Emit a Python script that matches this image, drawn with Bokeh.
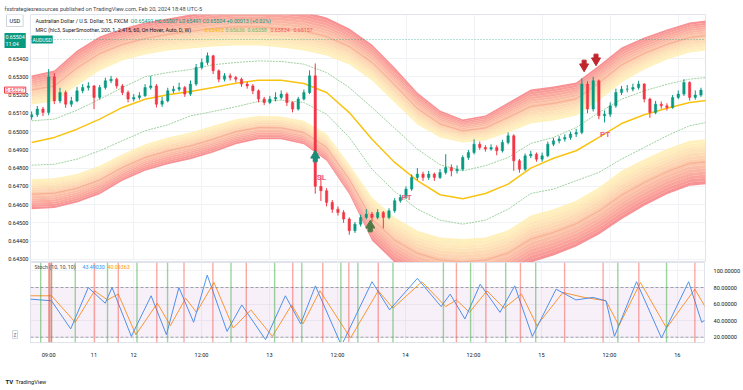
from bokeh.plotting import figure
from bokeh.layouts import column, row
from bokeh.models import Range1d, FixedTicker, Span, Label, BoxAnnotation, ColumnDataSource, NumeralTickFormatter
from bokeh.embed import file_html
from bokeh.resources import INLINE
from bokeh.core.properties import value

FONT = "Roboto"

# ---------------- data (hourly bars, index 0 = Fri 9 Feb 06:00) ----------------
FIRST_OPEN = 0.65080
CLOSE = [0.65092, 0.65123, 0.65105, 0.65300, 0.65168, 0.65214, 0.65150, 0.65168, 0.65223, 0.65241,
         0.65250, 0.65187, 0.65241, 0.65278, 0.65287, 0.65250, 0.65214, 0.65178, 0.65187, 0.65196,
         0.65241, 0.65250, 0.65150, 0.65168, 0.65223, 0.65232, 0.65241, 0.65205, 0.65260, 0.65351,
         0.65378, 0.65415, 0.65333, 0.65287, 0.65305, 0.65296, 0.65287, 0.65260, 0.65250, 0.65223,
         0.65178, 0.65159, 0.65178, 0.65187, 0.65205, 0.65159, 0.65123, 0.65178, 0.65214, 0.65305,
         0.64700, 0.64676, 0.64612, 0.64575, 0.64557, 0.64521, 0.64457, 0.64493, 0.64530, 0.64548,
         0.64530, 0.64557, 0.64530, 0.64566, 0.64621, 0.64639, 0.64685, 0.64749, 0.64767, 0.64749,
         0.64767, 0.64749, 0.64776, 0.64803, 0.64785, 0.64794, 0.64858, 0.64885, 0.64931, 0.64913,
         0.64904, 0.64913, 0.64895, 0.64940, 0.64977, 0.64840, 0.64794, 0.64867, 0.64876, 0.64849,
         0.64867, 0.64931, 0.64949, 0.64959, 0.64968, 0.64986, 0.64995, 0.65260, 0.65123, 0.65278,
         0.65086, 0.65095, 0.65141, 0.65214, 0.65232, 0.65232, 0.65241, 0.65260, 0.65178, 0.65104,
         0.65150, 0.65141, 0.65132, 0.65187, 0.65205, 0.65269, 0.65187, 0.65200, 0.65227]
HIGH = [0.65110, 0.65140, 0.65135, 0.65342, 0.65320, 0.65240, 0.65225, 0.65190, 0.65245, 0.65260,
        0.65270, 0.65255, 0.65255, 0.65295, 0.65305, 0.65295, 0.65260, 0.65225, 0.65205, 0.65215,
        0.65260, 0.65305, 0.65260, 0.65190, 0.65240, 0.65250, 0.65268, 0.65250, 0.65280, 0.65370,
        0.65400, 0.65433, 0.65420, 0.65340, 0.65320, 0.65318, 0.65305, 0.65295, 0.65272, 0.65260,
        0.65230, 0.65190, 0.65195, 0.65215, 0.65225, 0.65215, 0.65165, 0.65190, 0.65230, 0.65335,
        0.65373, 0.64760, 0.64690, 0.64625, 0.64590, 0.64570, 0.64530, 0.64505, 0.64545, 0.64575,
        0.64560, 0.64575, 0.64565, 0.64580, 0.64635, 0.64655, 0.64700, 0.64765, 0.64800, 0.64780,
        0.64785, 0.64775, 0.64795, 0.64876, 0.64820, 0.64815, 0.64870, 0.64900, 0.64958, 0.64945,
        0.64925, 0.64930, 0.64925, 0.64955, 0.64995, 0.64985, 0.64850, 0.64880, 0.64895, 0.64885,
        0.64885, 0.64945, 0.64965, 0.64975, 0.64985, 0.65000, 0.65015, 0.65292, 0.65275, 0.65300,
        0.65285, 0.65115, 0.65160, 0.65235, 0.65250, 0.65255, 0.65262, 0.65278, 0.65265, 0.65185,
        0.65168, 0.65165, 0.65155, 0.65200, 0.65225, 0.65287, 0.65275, 0.65225, 0.65240]
LOW = [0.65065, 0.65080, 0.65085, 0.65090, 0.65150, 0.65155, 0.65130, 0.65135, 0.65160, 0.65210,
       0.65225, 0.65123, 0.65175, 0.65230, 0.65265, 0.65235, 0.65200, 0.65160, 0.65165, 0.65175,
       0.65190, 0.65230, 0.65132, 0.65135, 0.65160, 0.65210, 0.65220, 0.65190, 0.65195, 0.65250,
       0.65340, 0.65365, 0.65315, 0.65270, 0.65275, 0.65280, 0.65270, 0.65245, 0.65235, 0.65205,
       0.65160, 0.65145, 0.65150, 0.65165, 0.65175, 0.65140, 0.65105, 0.65115, 0.65170, 0.65205,
       0.64660, 0.64620, 0.64590, 0.64555, 0.64540, 0.64500, 0.64435, 0.64445, 0.64480, 0.64520,
       0.64505, 0.64520, 0.64470, 0.64520, 0.64555, 0.64610, 0.64630, 0.64675, 0.64735, 0.64730,
       0.64735, 0.64730, 0.64740, 0.64765, 0.64755, 0.64770, 0.64785, 0.64845, 0.64875, 0.64900,
       0.64890, 0.64895, 0.64870, 0.64885, 0.64930, 0.64785, 0.64775, 0.64785, 0.64855, 0.64835,
       0.64835, 0.64860, 0.64920, 0.64935, 0.64945, 0.64955, 0.64970, 0.64985, 0.65100, 0.65110,
       0.65068, 0.65050, 0.65080, 0.65130, 0.65200, 0.65215, 0.65220, 0.65230, 0.65160, 0.65075,
       0.65095, 0.65125, 0.65115, 0.65125, 0.65178, 0.65195, 0.65170, 0.65175, 0.65190]

# Mean Reversion Channel, sampled every 4 bars
MRC_X = [0, 4, 8, 12, 16, 20, 24, 28, 32, 36, 40, 44, 48, 52, 56, 60, 64, 68, 72, 76,
         80, 84, 88, 92, 96, 100, 104, 108, 112, 116, 119]
MRC_MEAN = [0.64940, 0.64968, 0.65013, 0.65068, 0.65132, 0.65177, 0.65201, 0.65219, 0.65241, 0.65265,
            0.65281, 0.65281, 0.65263, 0.65214, 0.65104, 0.64958, 0.64831, 0.64731, 0.64654, 0.64632,
            0.64661, 0.64712, 0.64800, 0.64854, 0.64895, 0.64968, 0.65044, 0.65092, 0.65128, 0.65159, 0.65170]
MRC_UP_IN = [0.65059, 0.65068, 0.65117, 0.65177, 0.65241, 0.65300, 0.65323, 0.65340, 0.65366, 0.65378,
             0.65387, 0.65384, 0.65369, 0.65323, 0.65241, 0.65132, 0.65018, 0.64904, 0.64818, 0.64785,
             0.64813, 0.64858, 0.64935, 0.64968, 0.65022, 0.65104, 0.65177, 0.65223, 0.65259, 0.65287, 0.65296]
MRC_LO_IN = [0.64816, 0.64821, 0.64849, 0.64895, 0.64950, 0.65004, 0.65037, 0.65086, 0.65110, 0.65136,
             0.65165, 0.65172, 0.65159, 0.65095, 0.64968, 0.64794, 0.64672, 0.64575, 0.64515, 0.64493,
             0.64515, 0.64575, 0.64661, 0.64685, 0.64731, 0.64776, 0.64849, 0.64913, 0.64977, 0.65032, 0.65050]
MRC_UB_IN = [0.65148, 0.65165, 0.65252, 0.65334, 0.65389, 0.65422, 0.65444, 0.65455, 0.65466, 0.65471,
             0.65471, 0.65460, 0.65444, 0.65416, 0.65367, 0.65280, 0.65159, 0.65039, 0.64968, 0.64940,
             0.64951, 0.64995, 0.65044, 0.65061, 0.65088, 0.65170, 0.65269, 0.65340, 0.65395, 0.65433, 0.65444]
MRC_UB_OUT = [0.65307, 0.65334, 0.65444, 0.65520, 0.65564, 0.65597, 0.65619, 0.65641, 0.65663, 0.65674,
              0.65674, 0.65668, 0.65657, 0.65624, 0.65564, 0.65477, 0.65351, 0.65214, 0.65115, 0.65066,
              0.65088, 0.65159, 0.65230, 0.65247, 0.65269, 0.65362, 0.65460, 0.65515, 0.65559, 0.65597, 0.65608]
MRC_LB_IN = [0.64739, 0.64745, 0.64767, 0.64813, 0.64876, 0.64931, 0.64968, 0.64995, 0.65032, 0.65068,
             0.65086, 0.65083, 0.65059, 0.64986, 0.64821, 0.64639, 0.64530, 0.64457, 0.64420, 0.64411,
             0.64420, 0.64459, 0.64541, 0.64575, 0.64621, 0.64694, 0.64785, 0.64849, 0.64904, 0.64950, 0.64958]
MRC_LB_OUT = [0.64575, 0.64581, 0.64612, 0.64657, 0.64731, 0.64785, 0.64821, 0.64849, 0.64885, 0.64931,
              0.64958, 0.64958, 0.64931, 0.64840, 0.64657, 0.64404, 0.64283, 0.64212, 0.64174, 0.64163,
              0.64174, 0.64212, 0.64283, 0.64322, 0.64371, 0.64437, 0.64520, 0.64594, 0.64657, 0.64703, 0.64712]

# signals
ARROW_UP_X = [50.0, 59.7]
ARROW_UP_Y = [0.64869, 0.64486]
ARROW_UP_C = ["#1E8A78", "#4F7A45"]
ARROW_DN_X = [97.4, 99.5]
ARROW_DN_Y = [0.65356, 0.65389]
TAG_X = [51.1, 66.1, 101.1]
TAG_Y = [0.64750, 0.64639, 0.64986]
TAG_T = ["SL", "PT", "PT"]

# Stochastic (10,10,10)
K_X = [-0.3, 3.5, 6.9, 10.0, 13.0, 14.2, 17.6, 21.1, 23.8, 26.0, 28.6, 31.0, 34.5, 37.1, 41.3, 44.8,
       47.5, 50.1, 54.7, 60.1, 63.2, 68.1, 72.3, 73.9, 76.5, 79.2, 82.7, 85.3, 88.4, 92.6, 96.1, 99.1,
       101.4, 102.9, 106.8, 111.2, 116.0, 118.3, 119.4]
K_V = [66, 64, 30, 80, 61, 80, 21, 70, 23, 80, 38, 95, 27, 59, 17, 70,
       36, 82, 10, 87, 53, 91, 57, 72, 42, 84, 50, 82, 21, 78, 65, 68,
       64, 21, 87, 19, 87, 38, 43]
D_X = [-0.3, 3.5, 7.7, 11.1, 13.4, 15.3, 18.4, 22.2, 24.5, 27.2, 29.1, 32.2, 35.6, 38.7, 42.5, 45.9,
       47.9, 50.9, 56.3, 61.2, 63.8, 68.9, 73.1, 75.0, 77.3, 80.4, 83.4, 86.5, 89.2, 93.8, 97.6, 101.4,
       103.7, 107.5, 112.1, 117.1, 119.4]
D_V = [70, 70, 38, 76, 65, 72, 23, 61, 34, 67, 50, 86, 31, 53, 21, 59,
       36, 76, 19, 76, 55, 87, 57, 65, 50, 76, 55, 72, 34, 74, 68, 64,
       34, 86, 31, 78, 51]
GREEN_SIG = [1.6, 3.5, 7.7, 13.4, 18.6, 24.0, 35.2, 42.9, 47.7, 54.6, 57.6, 63.8, 72.7, 77.5, 83.7, 89.0, 103.5, 112.1]
RED_SIG = [3.1, 11.1, 15.3, 22.1, 26.9, 32.0, 37.9, 46.1, 51.4, 56.0, 61.2, 75.0, 80.2, 86.3, 94.1, 100.9, 107.2, 117.1]

PRICE_TICKS = [0.643, 0.644, 0.645, 0.646, 0.647, 0.648, 0.649, 0.650, 0.651, 0.652, 0.653, 0.654]
STOCH_TICKS = [20, 40, 60, 80, 100]
TIME_TICKS = [3, 11, 18, 30, 42, 54, 66, 78, 90, 102, 114]
TIME_LABELS = ["09:00", "11", "12", "12:00", "13", "12:00", "14", "12:00", "15", "12:00", "16"]

# ---------------- styling helpers ----------------
W = 743
LW = 30          # left strip (price scale)
BR = 38          # right border
UP_C, DN_C = "#089981", "#F23645"
GRID = "#F0F2F6"
TXT = "#131722"


def mix(c0, c1, t):
    return "#%02x%02x%02x" % tuple(int(round(a + (b - a) * t)) for a, b in zip(c0, c1))


def lab(p, x, y, text, color=TXT, size="5.3px", style="normal", yu="screen", **kw):
    p.add_layout(Label(x=x, y=y, x_units="screen", y_units=yu, text=text, text_color=color,
                       text_font=FONT, text_font_size=size, text_font_style=style,
                       text_baseline="middle", **kw))


def bare(width, height, **kw):
    f = figure(width=width, height=height, output_backend="svg", toolbar_location=None,
               x_axis_location=None, y_axis_location=None, min_border=0, **kw)
    f.outline_line_color = None
    f.grid.visible = False
    return f


xr = Range1d(-0.2, 118.8)
yr = Range1d(0.64283, 0.65641)

# ---------------- header strip ----------------
HH = 14
hdr = bare(W, HH, x_range=Range1d(0, 1), y_range=Range1d(0, 1))
lab(hdr, 4, 6, "fxstrategiesresources published on TradingView.com, Feb 20, 2024 18:48 UTC-5",
    color="#434651", size="5.6px")

# ---------------- price pane ----------------
PH = 248
p1 = figure(width=W - LW, height=PH, x_range=xr, y_range=yr,
            output_backend="svg", toolbar_location=None, x_axis_location=None,
            y_axis_location=None, min_border_left=0, min_border_right=BR,
            min_border_top=0, min_border_bottom=0)
p1.outline_line_color = "#E0E3EB"
p1.ygrid.ticker = FixedTicker(ticks=PRICE_TICKS)
p1.xgrid.ticker = FixedTicker(ticks=TIME_TICKS)
p1.grid.grid_line_color = GRID

# gradient bands
N = 14
OUTER_RGB = (247, 126, 128)
INNER_RGB = (255, 238, 178)
for k in range(N):
    f0, f1 = k / N, (k + 1) / N
    col = mix(INNER_RGB, OUTER_RGB, (k / (N - 1)) ** 1.3)
    u0 = [a + (b - a) * f0 for a, b in zip(MRC_UB_IN, MRC_UB_OUT)]
    u1 = [a + (b - a) * f1 for a, b in zip(MRC_UB_IN, MRC_UB_OUT)]
    l0 = [a + (b - a) * f0 for a, b in zip(MRC_LB_IN, MRC_LB_OUT)]
    l1 = [a + (b - a) * f1 for a, b in zip(MRC_LB_IN, MRC_LB_OUT)]
    p1.varea(x=MRC_X, y1=u0, y2=u1, fill_color=col, fill_alpha=0.85)
    p1.varea(x=MRC_X, y1=l0, y2=l1, fill_color=col, fill_alpha=0.85)
mid_u = [(a + b) / 2 for a, b in zip(MRC_UB_IN, MRC_UB_OUT)]
mid_l = [(a + b) / 2 for a, b in zip(MRC_LB_IN, MRC_LB_OUT)]
p1.line(MRC_X, mid_u, line_color="#F3836A", line_width=0.8, line_alpha=0.6)
p1.line(MRC_X, mid_l, line_color="#F3836A", line_width=0.8, line_alpha=0.6)
p1.line(MRC_X, MRC_UP_IN, line_color="#9FD09F", line_width=1, line_dash="2 1")
p1.line(MRC_X, MRC_LO_IN, line_color="#9FD09F", line_width=1, line_dash="2 1")
p1.line(MRC_X, MRC_MEAN, line_color="#F9C312", line_width=1.5)

p1.add_layout(Span(location=0.65504, dimension="width", line_color=UP_C, line_dash="1 2",
                   line_alpha=0.6, line_width=1))

# candles
OPEN = [FIRST_OPEN] + CLOSE[:-1]
BAR = list(range(len(CLOSE)))
src = ColumnDataSource(dict(
    x=BAR, h=HIGH, l=LOW,
    top=[max(o, c) for o, c in zip(OPEN, CLOSE)],
    bot=[min(o, c) for o, c in zip(OPEN, CLOSE)],
    color=[UP_C if c >= o else DN_C for o, c in zip(OPEN, CLOSE)]))
p1.segment(x0="x", y0="h", x1="x", y1="l", line_color="color", line_width=1, source=src)
p1.vbar(x="x", top="top", bottom="bot", width=0.42, fill_color="color", line_color="color",
        line_width=0.5, source=src)

# arrows & tags
stem_up = [y - 0.00024 for y in ARROW_UP_Y]
p1.scatter(ARROW_UP_X, stem_up, marker="square", size=4, color=ARROW_UP_C)
p1.scatter(ARROW_UP_X, ARROW_UP_Y, marker="triangle", size=9, color=ARROW_UP_C)
stem_dn = [y + 0.00024 for y in ARROW_DN_Y]
p1.scatter(ARROW_DN_X, stem_dn, marker="square", size=4, color="#C0272D")
p1.scatter(ARROW_DN_X, ARROW_DN_Y, marker="inverted_triangle", size=9, color="#C0272D")
p1.text(x=TAG_X, y=TAG_Y, text=TAG_T, text_color="#EE5A8A", text_font=value(FONT),
        text_font_size=value("8px"), text_font_style="bold", text_align="center",
        text_baseline="middle")

# legend texts inside the price pane (frame: page x 30..705, y 14..262)
lab(p1, 5, PH - 6, "Australian Dollar / U.S. Dollar, 15, FXCM")
lab(p1, 100, PH - 6, "O0.65491  H0.65507  L0.65491  C0.65504  +0.00013 (+0.02%)", color=UP_C)
lab(p1, 5, PH - 15, "MRC (hlc3, SuperSmoother, 200, 1, 2.415, 60, On Hover, Auto, D, W)")
for xx, tt, cc in [(174, "0.65495", "#F5B400"), (195, "0.65636", "#7CB868"),
                   (217, "0.65358", "#66BB6A"), (240, "0.65834", "#F05560"),
                   (263, "0.65157", "#F05560")]:
    lab(p1, xx, PH - 15, tt, color=cc)
lab(p1, 1, PH - 25, "AUDUSD", color="white", size="5px", background_fill_color=UP_C, padding=1)

# ---------------- left price scale strip ----------------
pl = bare(LW, PH, x_range=Range1d(0, LW), y_range=yr)
PRICE_LABELS = ["%.5f" % t for t in PRICE_TICKS]
pl.text(x=[LW - 2] * len(PRICE_TICKS), y=PRICE_TICKS, text=PRICE_LABELS, text_color=TXT,
        text_font=value(FONT), text_font_size=value("5.6px"), text_align="right",
        text_baseline="middle")
lab(pl, 6, PH - 6, "USD", size="5.6px", background_fill_color="white",
    border_line_color="#D1D4DC", padding=3)
lab(pl, 4, PH - 26, "0.65504\n11:04", color="white", size="5.3px",
    background_fill_color=UP_C, padding=1)
lab(pl, 4, 0.65227, "0.65227", color=DN_C, size="5.3px", yu="data",
    background_fill_color="white", border_line_color=DN_C, padding=1)

# ---------------- stochastic pane ----------------
SH = 98
p2 = figure(width=W - LW, height=SH, x_range=xr, y_range=Range1d(13.6, 110.2),
            output_backend="svg", toolbar_location=None, y_axis_location="right",
            min_border_left=0, min_border_right=BR, min_border_top=0, min_border_bottom=13)
p2.outline_line_color = "#E0E3EB"
ay = p2.yaxis[0]
ay.ticker = FixedTicker(ticks=STOCH_TICKS)
ay.formatter = NumeralTickFormatter(format="0.00000")
ax2 = p2.xaxis[0]
for a in (ay, ax2):
    a.major_label_text_font_size = "5.6px"
    a.major_label_text_font = FONT
    a.major_label_text_color = TXT
    a.major_tick_line_color = None
    a.minor_tick_line_color = None
    a.major_label_standoff = 3
ay.axis_line_color = None
ax2.axis_line_color = "#E0E3EB"
ax2.ticker = FixedTicker(ticks=TIME_TICKS)
ax2.major_label_overrides = {t: s for t, s in zip(TIME_TICKS, TIME_LABELS)}
p2.xgrid.ticker = FixedTicker(ticks=TIME_TICKS)
p2.ygrid.ticker = FixedTicker(ticks=STOCH_TICKS)
p2.grid.grid_line_color = GRID

p2.add_layout(BoxAnnotation(bottom=20, top=80, fill_color="#9C27B0", fill_alpha=0.07, line_color=None))
for lv in (20, 80):
    p2.add_layout(Span(location=lv, dimension="width", line_color="#8A8D96", line_dash="3 2",
                       line_width=1, line_alpha=0.8))
for g in GREEN_SIG:
    p2.add_layout(Span(location=g, dimension="height", line_color="#4CAF50", line_alpha=0.55, line_width=1.4))
for r in RED_SIG:
    p2.add_layout(Span(location=r, dimension="height", line_color="#F44336", line_alpha=0.45, line_width=1.4))
p2.add_layout(Span(location=3.3, dimension="height", line_color="#F44336", line_alpha=0.3, line_width=4))

p2.line(D_X, D_V, line_color="#FF9E2C", line_width=1)
p2.line(K_X, K_V, line_color="#4A98F0", line_width=1)

lab(p2, 4, 76, "Stoch (10, 10, 10)", color="#434651")
lab(p2, 52, 76, "43.49030", color="#2196F3")
lab(p2, 77, 76, "40.09363", color="#FF9800")

pl2 = bare(LW, SH, x_range=Range1d(0, 1), y_range=Range1d(0, 1))
lab(pl2, 12, 8, "Z", color="#787B86", size="5px", border_line_color="#D1D4DC", padding=1)

# ---------------- footer strip ----------------
FH = 390 - HH - PH - SH
ftr = bare(W, FH, x_range=Range1d(0, 1), y_range=Range1d(0, 1))
lab(ftr, 5, 9, "TV", color="#131722", size="6px", style="bold")
lab(ftr, 15, 9, "TradingView", color="#131722", size="5.6px")

layout = column(hdr, row(pl, p1, spacing=0), row(pl2, p2, spacing=0), ftr, spacing=0)
open("out.html", "w").write(file_html(layout, INLINE))
